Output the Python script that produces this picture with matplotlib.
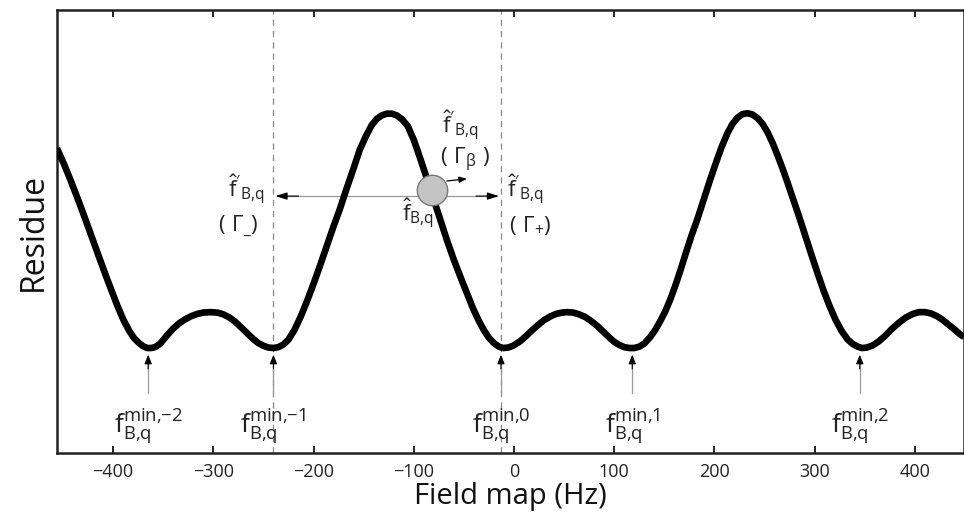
import matplotlib
matplotlib.use("Agg")
import matplotlib.pyplot as plt

plt.rcParams['font.family'] = ['Open Sans', 'DejaVu Sans']
plt.rcParams['mathtext.fontset'] = 'custom'
plt.rcParams['mathtext.rm'] = 'Open Sans'
plt.rcParams['mathtext.it'] = 'Open Sans'
plt.rcParams['mathtext.bf'] = 'Open Sans:bold'

# residue curve (Hz, arbitrary units)
field_hz = [-456, -449, -443, -437, -430, -422, -413, -405, -396, -390, -384, -379,
            -374, -370, -366, -362, -358, -353, -346, -340, -334, -328, -322, -316,
            -310, -303, -296, -290, -284, -278, -272, -266, -260, -255, -250, -245,
            -240, -235, -230, -225, -219, -213, -207, -200, -194, -187, -180, -174,
            -167, -160, -154, -148, -142, -137, -132, -127, -122, -117, -112, -106,
            -100, -94, -87, -81, -74, -67, -60, -53, -47, -41, -35, -30,
            -25, -20, -15, -11, -6, -1, 6, 12, 18, 24, 30, 36,
            42, 48, 53, 59, 65, 71, 77, 83, 89, 95, 100, 105,
            110, 115, 120, 125, 130, 136, 141, 146, 151, 156, 161, 166,
            171, 177, 183, 189, 195, 201, 207, 213, 218, 223, 228, 233,
            238, 243, 248, 253, 258, 263, 268, 273, 279, 285, 291, 297,
            303, 309, 315, 321, 327, 333, 338, 343, 347, 352, 358, 364,
            370, 377, 384, 391, 398, 404, 410, 416, 422, 428, 434, 440,
            445, 449]
residue = [0.688, 0.652, 0.619, 0.584, 0.542, 0.492, 0.436, 0.387, 0.334, 0.302, 0.276, 0.259,
           0.248, 0.241, 0.237, 0.237, 0.239, 0.247, 0.266, 0.281, 0.293, 0.302, 0.309, 0.314,
           0.317, 0.318, 0.317, 0.313, 0.306, 0.296, 0.283, 0.270, 0.257, 0.248, 0.242, 0.238,
           0.237, 0.239, 0.245, 0.256, 0.278, 0.307, 0.340, 0.382, 0.420, 0.466, 0.512, 0.549,
           0.597, 0.643, 0.684, 0.714, 0.740, 0.754, 0.762, 0.766, 0.766, 0.762, 0.754, 0.738,
           0.707, 0.668, 0.620, 0.578, 0.530, 0.481, 0.436, 0.395, 0.361, 0.327, 0.298, 0.277,
           0.260, 0.248, 0.240, 0.237, 0.238, 0.242, 0.252, 0.264, 0.277, 0.289, 0.300, 0.308,
           0.314, 0.317, 0.318, 0.317, 0.313, 0.307, 0.298, 0.287, 0.274, 0.261, 0.251, 0.244,
           0.239, 0.237, 0.237, 0.240, 0.247, 0.262, 0.278, 0.298, 0.320, 0.347, 0.378, 0.412,
           0.448, 0.490, 0.528, 0.570, 0.612, 0.652, 0.690, 0.722, 0.743, 0.757, 0.765, 0.767,
           0.764, 0.756, 0.743, 0.724, 0.700, 0.672, 0.642, 0.610, 0.570, 0.530, 0.488, 0.446,
           0.405, 0.366, 0.331, 0.300, 0.275, 0.256, 0.246, 0.240, 0.237, 0.238, 0.243, 0.252,
           0.264, 0.280, 0.294, 0.306, 0.314, 0.318, 0.318, 0.315, 0.309, 0.300, 0.289, 0.278,
           0.268, 0.262]

# local minima and their labels
min_hz = [-365, -240, -13, 118, 345]
min_labels = ["-2", "-1", "0", "1", "2"]

# current estimate and search range
est_hz = -82
est_res = 0.594
range_lo = -240
range_hi = -13

xticks = [-400, -300, -200, -100, 0, 100, 200, 300, 400]

fig = plt.figure(figsize=(9.64, 5.21), dpi=100)
ax = fig.add_axes([0.0591, 0.1305, 0.9409, 0.8503])

ax.plot(field_hz, residue, color='black', lw=4.8, solid_capstyle='butt',
        solid_joinstyle='round', zorder=3)

# dashed lines at the two neighbouring minima
for xv in [range_lo, range_hi]:
    ax.axvline(xv, color='#888888', lw=0.9, ls=(0, (5, 4)), zorder=1)

# arrows pointing at the minima + labels
for xm, lab in zip(min_hz, min_labels):
    ax.plot([xm, xm], [0.135, 0.205], color='#999999', lw=0.9, zorder=2)
    ax.annotate("", xy=(xm, 0.222), xytext=(xm, 0.19),
                arrowprops=dict(arrowstyle='-|>,head_length=0.55,head_width=0.22',
                                color='black', lw=0.8, shrinkA=0, shrinkB=0))
    ax.text(xm, 0.058,
            r"$\mathrm{f}^{\text{min,%s}}_{\text{B,q}}$" % lab.replace("-", "\u2212"),
            fontsize=19, ha='center', va='center', color='#222222')

# search range double arrow
ax.plot([range_lo + 6, range_hi - 6], [0.580, 0.580], color='#999999', lw=0.9, zorder=2)
ax.annotate("", xy=(range_lo + 2, 0.580), xytext=(range_lo + 25, 0.580),
            arrowprops=dict(arrowstyle='-|>,head_length=0.7,head_width=0.22',
                            color='black', lw=0.8, shrinkA=0, shrinkB=0))
ax.annotate("", xy=(range_hi - 2, 0.580), xytext=(range_hi - 25, 0.580),
            arrowprops=dict(arrowstyle='-|>,head_length=0.7,head_width=0.22',
                            color='black', lw=0.8, shrinkA=0, shrinkB=0))

# current estimate marker and small step arrow
ax.scatter([est_hz], [est_res], s=480, color='#c4c4c4', edgecolor='#777777', lw=1.0, zorder=5)
ax.annotate("", xy=(-47, 0.619), xytext=(-67, 0.614),
            arrowprops=dict(arrowstyle='-|>,head_length=0.45,head_width=0.18',
                            color='black', lw=0.9, shrinkA=0, shrinkB=0))

fhat_p = r"$\hat{\mathrm{f}}'_{\text{B,q}}$"
txt_kw = dict(fontsize=16, ha='center', va='center', color='#222222')
ax.text(-54, 0.738, fhat_p, **txt_kw)
ax.text(-49, 0.661, r"$(\ \Gamma_{\beta}\ )$", **txt_kw)
ax.text(-267, 0.594, fhat_p, **txt_kw)
ax.text(-275, 0.512, r"$(\ \Gamma_{\_})$", **txt_kw)
ax.text(-96, 0.540, r"$\hat{\mathrm{f}}_{\text{B,q}}$", **txt_kw)
ax.text(11, 0.594, fhat_p, **txt_kw)
ax.text(16, 0.512, r"$(\ \Gamma_{+})$", **txt_kw)

ax.set_xlim(-456, 449)
ax.set_ylim(0, 1)
ax.set_xticks(xticks)
ax.set_xticklabels([str(t).replace("-", "\u2212") for t in xticks])
ax.set_yticks([])
ax.tick_params(axis='x', direction='in', top=True, length=5, width=1.4,
               labelsize=13, pad=7, colors='#222222')
for sp in ax.spines.values():
    sp.set_linewidth(1.8)
    sp.set_color('#222222')

ax.set_xlabel("Field map (Hz)", fontsize=21, labelpad=1, color='#111111')
ax.set_ylabel("Residue", fontsize=23, labelpad=5, color='#111111')

fig.savefig("out.png", dpi=100)
